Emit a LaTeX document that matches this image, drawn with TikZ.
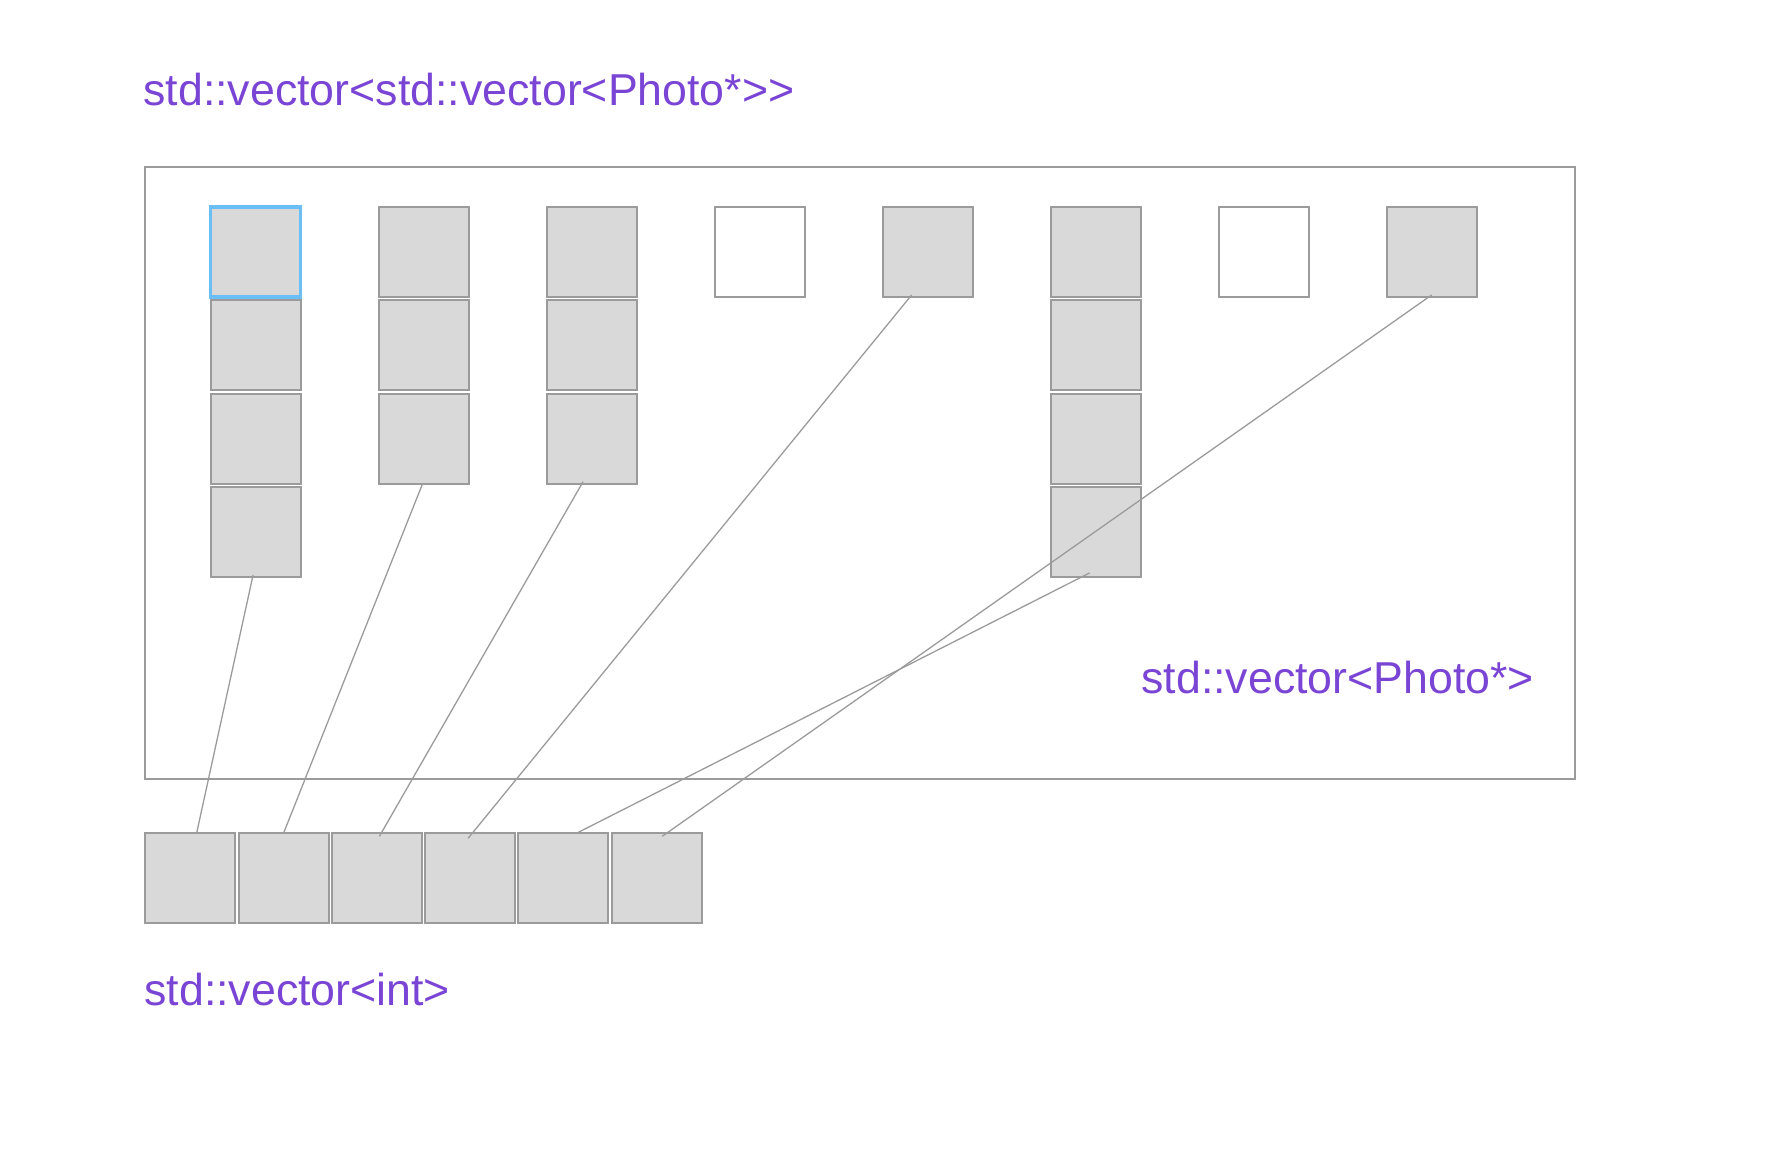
\documentclass[tikz,border=0pt]{standalone}
\usepackage{fontspec}
\setmainfont{Liberation Sans}
\definecolor{typeviolet}{HTML}{7A45D5}
\definecolor{cellgray}{HTML}{D9D9D9}
\definecolor{edgegray}{HTML}{9B9B9B}
\definecolor{pickblue}{HTML}{6CBEF7}
\tikzset{
  cell/.style={draw=edgegray, line width=1pt, fill=cellgray, minimum size=45pt, inner sep=0pt, outer sep=0pt},
  emptycell/.style={cell, fill=white},
  link/.style={edgegray, line width=0.65pt},
  typename/.style={text=typeviolet, font=\fontsize{22.35}{26}\selectfont, inner sep=0pt, anchor=base west}
}
\begin{document}
\begin{tikzpicture}[x=0.5pt, y=-0.5pt]
      \useasboundingbox (0,0) rectangle (1780,1172);
      \node[typename] (outername) at (143,105) {std::vector<std::vector<Photo*>{}>};
      \draw[edgegray, line width=1pt] (145,167) rectangle (1575,779);
      \foreach \i/\n in {1/4, 2/3, 3/3, 5/1, 6/4, 8/1}
        \foreach \j in {1,...,\n}
          \node[cell] (c\i r\j) at ({255.6+168*(\i-1)}, {252+93.3*(\j-1)}) {};
      \node[emptycell] (c4r1) at ({255.6+168*3}, 252) {};
      \node[emptycell] (c7r1) at ({255.6+168*6}, 252) {};
      \draw[pickblue, line width=1.7pt] (c1r1.south west) rectangle (c1r1.north east);
      \node[typename] (innername) at (1141,693) {std::vector<Photo*>};
      % flattened vector
      \foreach \k in {1,...,6}
        \node[cell] (b\k) at ({190.2+93.3*(\k-1)}, 878.3) {};
      \node[typename] (flatname) at (144,1005) {std::vector<int>};
      \draw[link] ([xshift=-1.25pt, yshift=1pt]c1r4.south) -- ([xshift=3.2pt]b1.north);
      \draw[link] ([xshift=-0.5pt]c2r3.south) -- (b2.north);
      \draw[link] ([xshift=-4.25pt, yshift=1pt]c3r3.south) -- ([xshift=1.3pt, yshift=-1.5pt]b3.north);
      \draw[link] ([xshift=-8pt, yshift=1pt]c5r1.south) -- ([xshift=-1pt, yshift=-2.5pt]b4.north);
      \draw[link] ([xshift=-3pt, yshift=2pt]c6r4.south) -- ([xshift=7.5pt, yshift=0.5pt]b5.north);
      \draw[link] ([yshift=1pt]c8r1.south) -- ([xshift=2.75pt, yshift=-1.5pt]b6.north);
    \end{tikzpicture}
\end{document}
